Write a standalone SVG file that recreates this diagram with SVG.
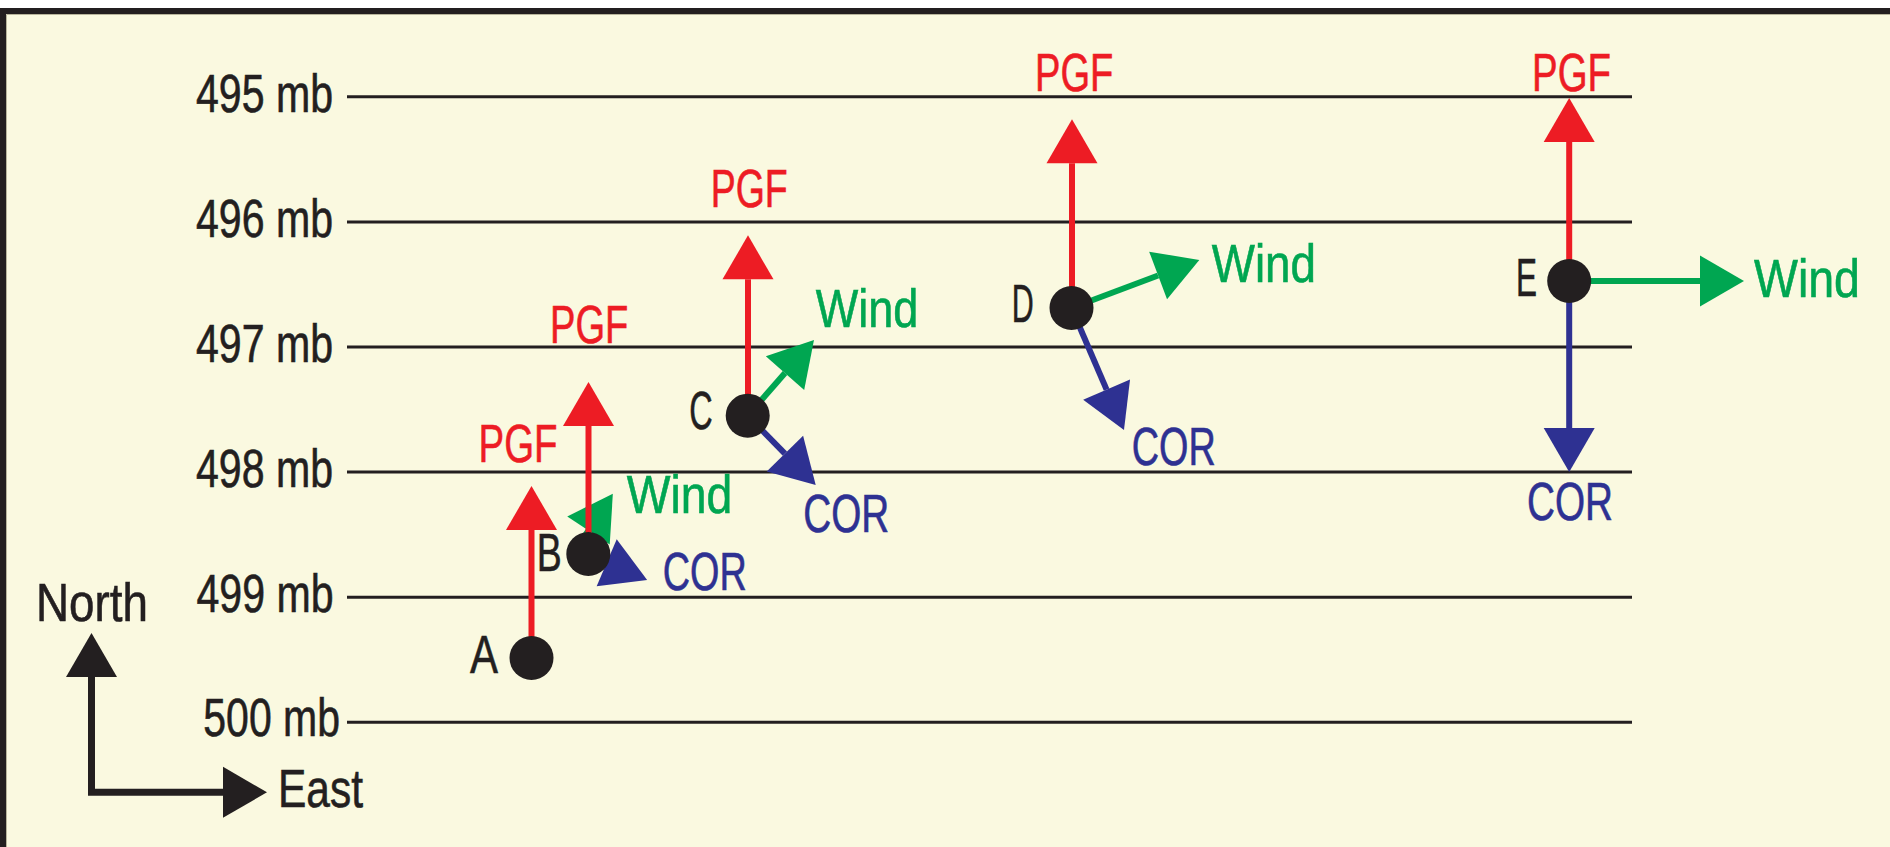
<svg xmlns="http://www.w3.org/2000/svg" width="1890" height="847" viewBox="0 0 1890 847">
  <defs>
    <style>
      .lbl { font-family: "Liberation Sans Narrow", "Liberation Sans", Arial, sans-serif; font-size: 53px; stroke-width: 0.6px; }
      .ink { fill: #231F20; stroke: #231F20; }
      .red { fill: #ED1C24; stroke: #ED1C24; }
      .green { fill: #00A651; stroke: #00A651; }
      .blue { fill: #2E3192; stroke: #2E3192; }
      .isobar { stroke: #231F20; stroke-width: 3; fill: none; }
      .dot { fill: #231F20; }
      .v { fill: none; stroke-width: 6; stroke-linecap: butt; }
      .v-red { stroke: #ED1C24; marker-end: url(#head-red); }
      .v-green { stroke: #00A651; marker-end: url(#head-green); }
      .v-blue { stroke: #2E3192; marker-end: url(#head-blue); }
    </style>
    <marker id="head-red" markerUnits="userSpaceOnUse" viewBox="0 -25.5 44 51" markerWidth="44" markerHeight="51" refX="0" refY="0" orient="auto" overflow="visible">
      <path d="M0,-25.5 L44,0 L0,25.5 Z" fill="#ED1C24"/>
    </marker>
    <marker id="head-green" markerUnits="userSpaceOnUse" viewBox="0 -25.5 44 51" markerWidth="44" markerHeight="51" refX="0" refY="0" orient="auto" overflow="visible">
      <path d="M0,-25.5 L44,0 L0,25.5 Z" fill="#00A651"/>
    </marker>
    <marker id="head-blue" markerUnits="userSpaceOnUse" viewBox="0 -25.5 44 51" markerWidth="44" markerHeight="51" refX="0" refY="0" orient="auto" overflow="visible">
      <path d="M0,-25.5 L44,0 L0,25.5 Z" fill="#2E3192"/>
    </marker>
    <marker id="head-black" markerUnits="userSpaceOnUse" viewBox="0 -25.5 44 51" markerWidth="44" markerHeight="51" refX="0" refY="0" orient="auto-start-reverse" overflow="visible">
      <path d="M0,-25.5 L44,0 L0,25.5 Z" fill="#231F20"/>
    </marker>
  </defs>

  <!-- page and framed panel -->
  <rect x="0" y="0" width="1890" height="847" fill="#FFFFFF"/>
  <rect x="3" y="11" width="1910" height="860" fill="#FAF9E0" stroke="#231F20" stroke-width="6"/>
  <path d="M6.5,870 V14.5 H1890" fill="none" stroke="#B8B59C" stroke-width="1"/>

  <!-- isobars with pressure labels -->
  <g id="isobars">
    <line class="isobar" x1="347" y1="96.8" x2="1632" y2="96.8"/>
    <line class="isobar" x1="347" y1="221.9" x2="1632" y2="221.9"/>
    <line class="isobar" x1="347" y1="347" x2="1632" y2="347"/>
    <line class="isobar" x1="347" y1="472.1" x2="1632" y2="472.1"/>
    <line class="isobar" x1="347" y1="597.2" x2="1632" y2="597.2"/>
    <line class="isobar" x1="347" y1="722.3" x2="1632" y2="722.3"/>
    <text class="lbl ink" x="196" y="111.5" textLength="137" lengthAdjust="spacingAndGlyphs">495 mb</text>
    <text class="lbl ink" x="196" y="236.6" textLength="137" lengthAdjust="spacingAndGlyphs">496 mb</text>
    <text class="lbl ink" x="196" y="361.7" textLength="137" lengthAdjust="spacingAndGlyphs">497 mb</text>
    <text class="lbl ink" x="196" y="486.8" textLength="137" lengthAdjust="spacingAndGlyphs">498 mb</text>
    <text class="lbl ink" x="196.5" y="611.8" textLength="137" lengthAdjust="spacingAndGlyphs">499 mb</text>
    <text class="lbl ink" x="203.3" y="736.2" textLength="136.7" lengthAdjust="spacingAndGlyphs">500 mb</text>
  </g>

  <!-- compass -->
  <g id="compass">
    <path d="M91.5,677 V792.3 H223" fill="none" stroke="#231F20" stroke-width="7" stroke-linejoin="miter" marker-start="url(#head-black)" marker-end="url(#head-black)"/>
    <text class="lbl ink" x="36" y="621" textLength="112" lengthAdjust="spacingAndGlyphs">North</text>
    <text class="lbl ink" x="278" y="806.7" textLength="85" lengthAdjust="spacingAndGlyphs">East</text>
  </g>

  <!-- force vectors: wind and Coriolis first, pressure gradient on top -->
  <g id="force-arrows">
    <line class="v v-green" x1="580.2" y1="543" x2="588.5" y2="530.5"/>
    <line class="v v-blue" x1="592.9" y1="556.9" x2="606.7" y2="562.8"/>
    <line class="v v-green" x1="747.7" y1="415.7" x2="785" y2="373.1"/>
    <line class="v v-blue" x1="747.7" y1="415.7" x2="784.9" y2="453.6"/>
    <line class="v v-green" x1="1071.5" y1="308" x2="1158.1" y2="275.5"/>
    <line class="v v-blue" x1="1071.5" y1="308" x2="1106.6" y2="389.6"/>
    <line class="v v-green" x1="1569.2" y1="281" x2="1700" y2="281"/>
    <line class="v v-blue" x1="1569.2" y1="281" x2="1569.2" y2="428"/>

    <line class="v v-red" x1="531.5" y1="658" x2="531.5" y2="530"/>
    <line class="v v-red" x1="588.5" y1="554" x2="588.5" y2="426"/>
    <line class="v v-red" x1="748" y1="415.7" x2="748" y2="279.3"/>
    <line class="v v-red" x1="1072" y1="308" x2="1072" y2="163.3"/>
    <line class="v v-red" x1="1569.2" y1="281" x2="1569.2" y2="142"/>
  </g>

  <!-- air parcels -->
  <g id="node-A">
    <circle class="dot" cx="531.5" cy="658" r="22"/>
    <text class="lbl ink" x="470" y="673.3" textLength="28" lengthAdjust="spacingAndGlyphs">A</text>
    <text class="lbl red" x="478.5" y="461.7" textLength="79" lengthAdjust="spacingAndGlyphs">PGF</text>
  </g>

  <g id="node-B">
    <circle class="dot" cx="588.3" cy="554" r="22"/>
    <text class="lbl ink" x="536.7" y="570.7" textLength="25" lengthAdjust="spacingAndGlyphs">B</text>
    <text class="lbl red" x="550" y="343.3" textLength="78.3" lengthAdjust="spacingAndGlyphs">PGF</text>
    <text class="lbl green" x="626.7" y="513.3" textLength="105.6" lengthAdjust="spacingAndGlyphs">Wind</text>
    <text class="lbl blue" x="662.7" y="590" textLength="84" lengthAdjust="spacingAndGlyphs">COR</text>
  </g>

  <g id="node-C">
    <circle class="dot" cx="747.7" cy="415.7" r="22"/>
    <text class="lbl ink" x="689.3" y="429" textLength="23.4" lengthAdjust="spacingAndGlyphs">C</text>
    <text class="lbl red" x="710.7" y="207.3" textLength="77" lengthAdjust="spacingAndGlyphs">PGF</text>
    <text class="lbl green" x="815.7" y="327.3" textLength="102.6" lengthAdjust="spacingAndGlyphs">Wind</text>
    <text class="lbl blue" x="803.3" y="531.7" textLength="86" lengthAdjust="spacingAndGlyphs">COR</text>
  </g>

  <g id="node-D">
    <circle class="dot" cx="1071.5" cy="308" r="22"/>
    <text class="lbl ink" x="1011.7" y="322" textLength="22" lengthAdjust="spacingAndGlyphs">D</text>
    <text class="lbl red" x="1035" y="90.7" textLength="78.3" lengthAdjust="spacingAndGlyphs">PGF</text>
    <text class="lbl green" x="1211.7" y="282.3" textLength="104.3" lengthAdjust="spacingAndGlyphs">Wind</text>
    <text class="lbl blue" x="1131.7" y="465" textLength="84" lengthAdjust="spacingAndGlyphs">COR</text>
  </g>

  <g id="node-E">
    <circle class="dot" cx="1569.2" cy="281" r="22"/>
    <text class="lbl ink" x="1516" y="295.5" textLength="21" lengthAdjust="spacingAndGlyphs">E</text>
    <text class="lbl red" x="1532" y="90.7" textLength="79" lengthAdjust="spacingAndGlyphs">PGF</text>
    <text class="lbl green" x="1754" y="296.7" textLength="106" lengthAdjust="spacingAndGlyphs">Wind</text>
    <text class="lbl blue" x="1527" y="520" textLength="86" lengthAdjust="spacingAndGlyphs">COR</text>
  </g>
</svg>
